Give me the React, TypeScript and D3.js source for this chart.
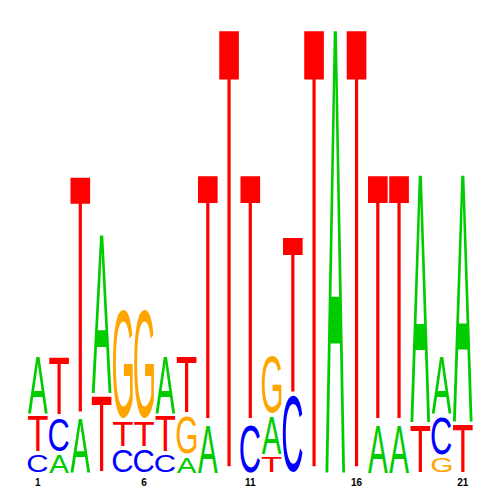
import * as d3 from 'd3';
import React, { useMemo } from 'react';

// positions along the motif
const positions = [1, 2, 3, 4, 5, 6, 7, 8, 9, 10, 11, 12, 13, 14, 15, 16, 17, 18, 19, 20, 21];
const tickPositions = [1, 6, 11, 16, 21];

// letters of each column, stacked from bottom to top
const stackLetters = [
  ['C', 'T', 'A'],
  ['A', 'C', 'T'],
  ['A', 'T'],
  ['T', 'A'],
  ['C', 'T', 'G'],
  ['C', 'T', 'G'],
  ['C', 'T', 'A'],
  ['A', 'G', 'T'],
  ['A', 'T'],
  ['T'],
  ['C', 'T'],
  ['T', 'A', 'G'],
  ['C', 'T'],
  ['T'],
  ['A'],
  ['T'],
  ['A', 'T'],
  ['A', 'T'],
  ['T', 'A'],
  ['G', 'C', 'A'],
  ['T', 'A'],
];

// height of each letter in bits, same order as above
const stackBits = [
  [0.079, 0.173, 0.271],
  [0.079, 0.167, 0.274],
  [0.245, 1.09],
  [0.343, 0.731],
  [0.102, 0.128, 0.505],
  [0.102, 0.128, 0.505],
  [0.079, 0.173, 0.268],
  [0.071, 0.181, 0.268],
  [0.215, 1.127],
  [2.0],
  [0.215, 1.127],
  [0.07, 0.182, 0.271],
  [0.343, 0.723],
  [2.0],
  [2.0],
  [2.0],
  [0.215, 1.127],
  [0.215, 1.127],
  [0.212, 1.133],
  [0.067, 0.185, 0.271],
  [0.215, 1.13],
];

const letterColors: Record<string, string> = {
  A: '#00cc00',
  C: '#0000ff',
  G: '#ffa500',
  T: '#ff0000',
};

const FONT_FAMILY = '"Liberation Sans", Arial, Helvetica, sans-serif';
const FONT_SIZE = 100;

type Metric = { left: number; right: number; ascent: number; descent: number };

// ink box of each glyph, so the letters can be stretched to fill their box
function measureGlyphs(): Record<string, Metric> {
  const out: Record<string, Metric> = {};
  const ctx = document.createElement('canvas').getContext('2d');
  for (const ch of ['A', 'C', 'G', 'T']) {
    if (ctx) {
      ctx.font = `${FONT_SIZE}px ${FONT_FAMILY}`;
      const m = ctx.measureText(ch);
      out[ch] = {
        left: m.actualBoundingBoxLeft,
        right: m.actualBoundingBoxRight,
        ascent: m.actualBoundingBoxAscent,
        descent: m.actualBoundingBoxDescent,
      };
    } else {
      out[ch] = { left: -4, right: 64, ascent: 72, descent: 0 };
    }
  }
  return out;
}

export default function App() {
  const metrics = useMemo(measureGlyphs, []);

  const width = 500;
  const height = 500;

  // column centres and the bits scale
  const x = d3.scaleLinear().domain([1, 21]).range([37.8, 462.8]);
  const y = d3.scaleLinear().domain([0, 2]).range([472.5, 30]);
  const colWidth = 19.8;
  const gap = 3.5;

  const glyphs: JSX.Element[] = [];
  positions.forEach((pos, i) => {
    let acc = 0;
    stackLetters[i].forEach((ch, k) => {
      const bits = stackBits[i][k];
      const top = y(acc + bits);
      const bottom = y(acc) - (k > 0 ? gap : 0);
      acc += bits;
      const m = metrics[ch];
      const w = m.left + m.right;
      const h = m.ascent + m.descent;
      const bx = x(pos) - colWidth / 2;
      const sx = colWidth / w;
      const sy = (bottom - top) / h;
      glyphs.push(
        <text
          key={`${pos}-${k}`}
          transform={`translate(${bx},${top}) scale(${sx},${sy}) translate(${m.left},${m.ascent})`}
          fontFamily={FONT_FAMILY}
          fontSize={FONT_SIZE}
          fill={letterColors[ch]}
        >
          {ch}
        </text>
      );
    });
  });

  return (
    <svg
      width={width}
      height={height}
      style={{ position: 'absolute', left: 0, top: 0, background: '#fff' }}
    >
      <g>{glyphs}</g>
      <g>
        {tickPositions.map((p) => (
          <text
            key={p}
            x={x(p)}
            y={485.5}
            textAnchor="middle"
            fontFamily={FONT_FAMILY}
            fontWeight="bold"
            fontSize={10}
            fill="#000"
          >
            {p}
          </text>
        ))}
      </g>
    </svg>
  );
}
